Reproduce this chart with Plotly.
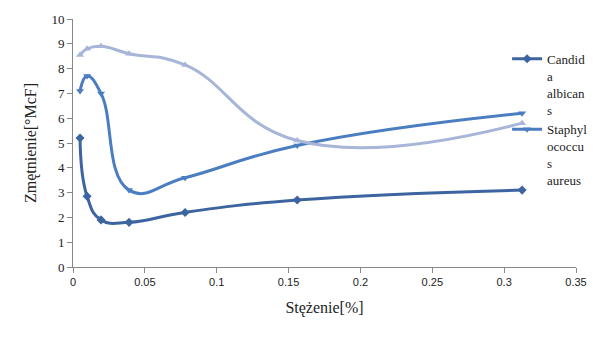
import plotly.graph_objects as go

conc = [0.0049, 0.0098, 0.0195, 0.039, 0.078, 0.156, 0.3125]
candida = [5.2, 2.85, 1.9, 1.8, 2.2, 2.7, 3.1]
staph = [7.1, 7.7, 7.0, 3.1, 3.6, 4.9, 6.2]
third = [8.55, 8.8, 8.9, 8.6, 8.15, 5.1, 5.8]

serif = "Liberation Serif"

fig = go.Figure()
fig.add_trace(go.Scatter(x=conc, y=candida, mode="lines+markers",
                         name="Candid<br>a<br>albican<br>s",
                         line=dict(color="#3C64A0", width=3, shape="spline", smoothing=1.3),
                         marker=dict(symbol="diamond", size=7, color="#3C64A0")))
fig.add_trace(go.Scatter(x=conc, y=staph, mode="lines+markers",
                         name="Staphyl<br>ococcu<br>s<br>aureus",
                         line=dict(color="#4A7EC0", width=3, shape="spline", smoothing=1.3),
                         marker=dict(symbol="triangle-down", size=7, color="#4A7EC0")))
fig.add_trace(go.Scatter(x=conc, y=third, mode="lines+markers", showlegend=False,
                         line=dict(color="#A6B5D8", width=3, shape="spline", smoothing=1.3),
                         marker=dict(symbol="triangle-up", size=7, color="#A6B5D8")))

fig.update_layout(
    width=605, height=340,
    margin=dict(l=73, r=27, t=15, b=73),
    paper_bgcolor="white", plot_bgcolor="white",
    font=dict(family=serif, size=13, color="#222"),
    legend=dict(x=0.863, y=0.9, xanchor="left", yanchor="top", valign="top",
                font=dict(family=serif, size=13, color="#222"),
                bgcolor="rgba(0,0,0,0)", tracegroupgap=8, itemwidth=30),
)
fig.update_xaxes(range=[0, 0.35], tickvals=[0, 0.05, 0.1, 0.15, 0.2, 0.25, 0.3, 0.35],
                 ticktext=["0", "0.05", "0.1", "0.15", "0.2", "0.25", "0.3", "0.35"],
                 showgrid=False, zeroline=False, showline=True, linecolor="#888", linewidth=1,
                 ticks="outside", ticklen=5, tickcolor="#888",
                 tickfont=dict(family="Liberation Sans", size=11, color="#222"),
                 title=dict(text="Stężenie[%]", font=dict(family=serif, size=16, color="#222"), standoff=14))
fig.update_yaxes(range=[0, 10], tickvals=list(range(0, 11)),
                 showgrid=False, zeroline=False, showline=True, linecolor="#888", linewidth=1,
                 ticks="outside", ticklen=5, tickcolor="#888",
                 tickfont=dict(family=serif, size=13, color="#222"),
                 title=dict(text="Zmętnienie[°McF]", font=dict(family=serif, size=16, color="#222"), standoff=10))

fig.write_html("out.html")
